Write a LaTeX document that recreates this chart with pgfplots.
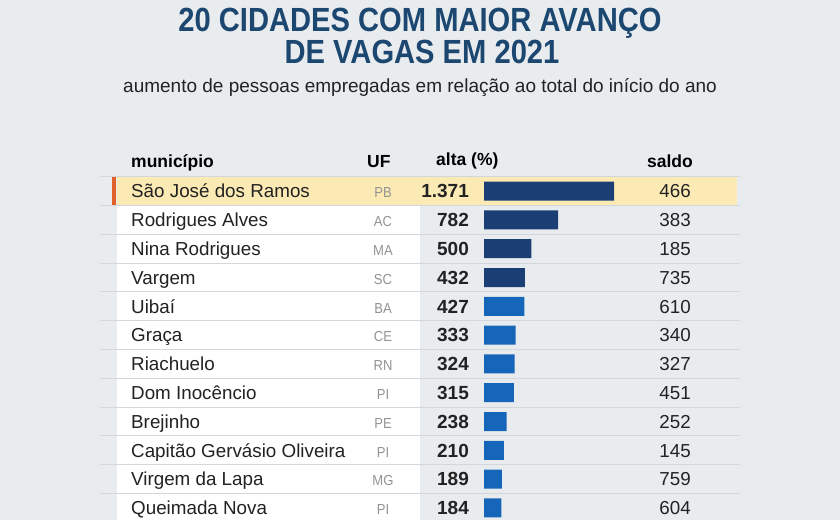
\documentclass[border=0pt]{standalone}
\usepackage{fontspec}
\setmainfont{Liberation Sans}
\newfontfamily\condfont[FakeStretch=0.87]{Liberation Sans}
\newfontfamily\uffont[FakeStretch=0.9]{Liberation Sans}
\usepackage{pgfplots}
\pgfplotsset{compat=1.18}
\usepackage{pgfplotstable}
\definecolor{bg}{HTML}{E9ECEF}
\definecolor{titleblue}{HTML}{1B4770}
\definecolor{navy}{HTML}{1B3F75}
\definecolor{midblue}{HTML}{1565B8}
\definecolor{hl}{HTML}{FCEAB5}
\definecolor{orng}{HTML}{E0622A}
\definecolor{sepc}{HTML}{D3D7DC}
\definecolor{txt}{HTML}{222222}
\definecolor{ufgray}{HTML}{939393}

\pgfplotstableread[col sep=comma]{
i,alta,saldo
1,1371,466
2,782,383
3,500,185
4,432,735
5,427,610
6,333,340
7,324,327
8,315,451
9,238,252
10,210,145
11,189,759
12,184,604
}\data

\begin{document}
\begin{tikzpicture}
\begin{axis}[at={(0,0)}, anchor=south west, scale only axis, width=840pt, height=520pt,
  xmin=0, xmax=840, ymin=0, ymax=520, y dir=reverse, hide axis, clip=false]
\fill[bg] (axis cs:0,0) rectangle (axis cs:840,520);
% title
\node[anchor=base, font=\condfont\bfseries\fontsize{33.5}{33.5}\selectfont, text=titleblue, inner sep=0] at (axis cs:420,31) {20 CIDADES COM MAIOR AVANÇO};
\node[anchor=base, font=\condfont\bfseries\fontsize{33.5}{33.5}\selectfont, text=titleblue, inner sep=0] at (axis cs:422,63) {DE VAGAS EM 2021};
\node[anchor=base, font=\fontsize{19}{19}\selectfont, text=txt, inner sep=0] at (axis cs:420,92) {aumento de pessoas empregadas em relação ao total do início do ano};
% backgrounds
\fill[white] (axis cs:117,205.5) rectangle (axis cs:420,520);
\fill[hl] (axis cs:117,176.7) rectangle (axis cs:737,205.5);
\fill[orng] (axis cs:112,176.7) rectangle (axis cs:116,205.5);
\pgfplotsinvokeforeach{176.7,205.5,234.3,263.1,291.9,320.7,349.5,378.3,407.1,435.9,464.7,493.5}{
  \draw[sepc, line width=1pt] (axis cs:100,#1) -- (axis cs:740,#1);
}
% header
\tikzset{hd/.style={font=\bfseries\fontsize{17.5}{17.5}\selectfont, text=black, inner sep=0}}
\node[hd, anchor=base west] at (axis cs:131,167) {município};
\node[hd, anchor=base west] at (axis cs:367,167) {UF};
\node[hd, anchor=base west] at (axis cs:436,165) {alta (\%)};
\node[hd, anchor=base east] at (axis cs:693,167) {saldo};
% names and UF
\tikzset{nm/.style={anchor=base west, font=\fontsize{18.8}{18.8}\selectfont, text=txt, inner sep=0},
         uf/.style={anchor=base, font=\uffont\fontsize{14.5}{14.5}\selectfont, text=ufgray, inner sep=0}}
\node[nm] at (axis cs:131,197.8) {São José dos Ramos};
\node[nm] at (axis cs:131,226.6) {Rodrigues Alves};
\node[nm] at (axis cs:131,255.4) {Nina Rodrigues};
\node[nm] at (axis cs:131,284.2) {Vargem};
\node[nm] at (axis cs:131,313.0) {Uibaí};
\node[nm] at (axis cs:131,341.8) {Graça};
\node[nm] at (axis cs:131,370.6) {Riachuelo};
\node[nm] at (axis cs:131,399.4) {Dom Inocêncio};
\node[nm] at (axis cs:131,428.2) {Brejinho};
\node[nm] at (axis cs:131,457.0) {Capitão Gervásio Oliveira};
\node[nm] at (axis cs:131,485.8) {Virgem da Lapa};
\node[nm] at (axis cs:131,514.6) {Queimada Nova};
\node[uf] at (axis cs:383,197.8) {PB};
\node[uf] at (axis cs:383,226.6) {AC};
\node[uf] at (axis cs:383,255.4) {MA};
\node[uf] at (axis cs:383,284.2) {SC};
\node[uf] at (axis cs:383,313.0) {BA};
\node[uf] at (axis cs:383,341.8) {CE};
\node[uf] at (axis cs:383,370.6) {RN};
\node[uf] at (axis cs:383,399.4) {PI};
\node[uf] at (axis cs:383,428.2) {PE};
\node[uf] at (axis cs:383,457.0) {PI};
\node[uf] at (axis cs:383,485.8) {MG};
\node[uf] at (axis cs:383,514.6) {PI};
\end{axis}
\begin{axis}[at={(484pt,0pt)}, anchor=south west, scale only axis, width=130pt, height=520pt,
  xmin=0, xmax=1371, ymin=-5.635, ymax=12.42, y dir=reverse, hide axis, clip=false,
  /pgf/number format/.cd, 1000 sep={.}, assume math mode=true]
\addplot[xbar, bar width=19pt, fill=navy, draw=none, skip coords between index={4}{12}] table[x=alta, y=i]{\data};
\addplot[xbar, bar width=19pt, fill=midblue, draw=none, skip coords between index={0}{4}] table[x=alta, y=i]{\data};
\addplot[draw=none, mark=none, nodes near coords, point meta=explicit,
  every node near coord/.style={anchor=base east, inner sep=0, yshift=-6.7pt, font=\bfseries\fontsize{19}{19}\selectfont, text=txt}]
  table[x expr=-158, y=i, meta=alta]{\data};
\addplot[draw=none, mark=none, nodes near coords, point meta=explicit,
  every node near coord/.style={anchor=base east, inner sep=0, yshift=-6.7pt, font=\fontsize{18.8}{18.8}\selectfont, text=txt}]
  table[x expr=2183, y=i, meta=saldo]{\data};
\end{axis}
\end{tikzpicture}
\end{document}
